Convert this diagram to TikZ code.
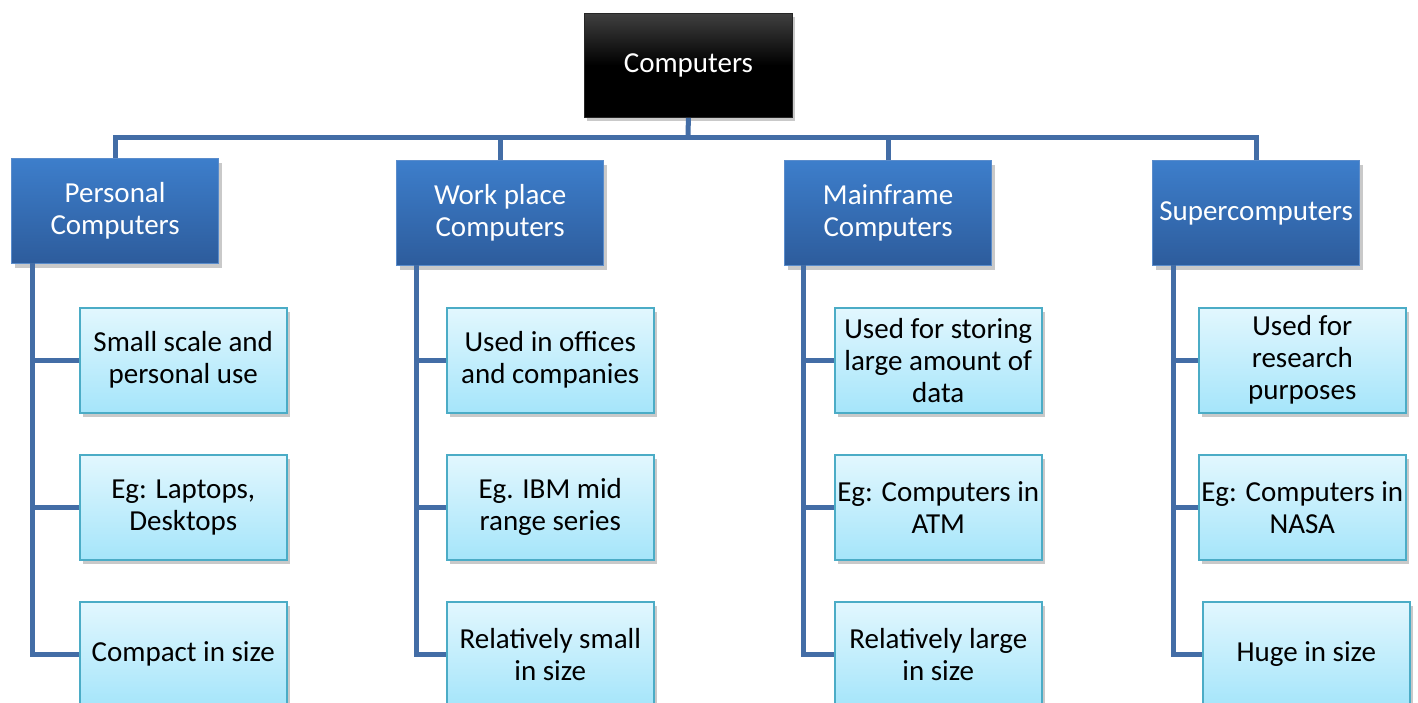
\documentclass[tikz,border=0pt]{standalone}
\usepackage{fontspec}
\setmainfont{Carlito}
\usetikzlibrary{shadows}
\definecolor{linkc}{HTML}{436DA6}
\definecolor{cattop}{HTML}{3D7ECB}
\definecolor{catbot}{HTML}{2D5C9C}
\definecolor{catborder}{HTML}{5A8CCB}
\definecolor{itemtop}{HTML}{E2F7FE}
\definecolor{itembot}{HTML}{A5E5FA}
\definecolor{itemborder}{HTML}{4BACC6}
\tikzset{
  boxshadow/.style={drop shadow={opacity=0.3, shadow xshift=3pt, shadow yshift=-4pt, fill=black!70}},
  rootbox/.style={top color=black!75, bottom color=black, middle color=black, shading angle=0,
    draw=black!85, line width=0.8pt, minimum width=208pt, minimum height=104pt,
    inner sep=0pt, text=white, font=\fontsize{29}{32}\selectfont, boxshadow, anchor=north west},
  catbox/.style={top color=cattop, bottom color=catbot, draw=catborder, line width=1.2pt,
    minimum width=207pt, minimum height=105pt, inner sep=2pt, text=white, align=center,
    font=\fontsize{29}{32}\selectfont, boxshadow, anchor=north west},
  itembox/.style={top color=itemtop, bottom color=itembot, draw=itemborder, line width=1.5pt,
    minimum width=207pt, minimum height=105pt, inner sep=1pt, text=black, align=center,
    font=\fontsize{29}{32}\selectfont, boxshadow, anchor=north west},
  link/.style={draw=linkc, line width=5pt}
}
\begin{document}
\begin{tikzpicture}[x=1pt,y=-1pt]
\useasboundingbox (0,0) rectangle (1418,702);
% root
\node[rootbox] (root) at (584,13) {Computers};
% categories
\node[catbox] (pc) at (11,158) {Personal\\Computers};
\node[catbox] (wp) at (396,160) {Work place\\Computers};
\node[catbox] (mf) at (784,160) {Mainframe\\Computers};
\node[catbox] (sc) at (1152,160) {Supercomputers};
% items
\node[itembox] (p1) at (79,307) {Small scale and\\personal use};
\node[itembox] (p2) at (79,454) {Eg: Laptops,\\Desktops};
\node[itembox] (p3) at (79,601) {Compact in size};
\node[itembox] (w1) at (446,307) {Used in offices\\and companies};
\node[itembox] (w2) at (446,454) {Eg. IBM mid\\range series};
\node[itembox] (w3) at (446,601) {Relatively small\\in size};
\node[itembox] (m1) at (834,307) {Used for storing\\large amount of\\data};
\node[itembox] (m2) at (834,454) {Eg: Computers in\\ATM};
\node[itembox] (m3) at (834,601) {Relatively large\\in size};
\node[itembox] (s1) at (1198,307) {Used for\\research\\purposes};
\node[itembox] (s2) at (1198,454) {Eg: Computers in\\NASA};
\node[itembox] (s3) at (1202,601) {Huge in size};
% top connectors
\coordinate (bar) at (688,137);
\draw[link] (root.south) -- (bar);
\draw[link] (pc.north) |- (bar) -| (sc.north);
\draw[link] (wp.north) -- (wp.north |- bar);
\draw[link] (mf.north) -- (mf.north |- bar);
% child connectors
\coordinate (pcv) at (32,263);
\coordinate (wpv) at (416,265);
\coordinate (mfv) at (803,265);
\coordinate (scv) at (1173,265);
\draw[link] (pcv) |- (p3.west);
\draw[link] (p1.west) -- (p1.west -| pcv);
\draw[link] (p2.west) -- (p2.west -| pcv);
\draw[link] (wpv) |- (w3.west);
\draw[link] (w1.west) -- (w1.west -| wpv);
\draw[link] (w2.west) -- (w2.west -| wpv);
\draw[link] (mfv) |- (m3.west);
\draw[link] (m1.west) -- (m1.west -| mfv);
\draw[link] (m2.west) -- (m2.west -| mfv);
\draw[link] (scv) |- (s3.west);
\draw[link] (s1.west) -- (s1.west -| scv);
\draw[link] (s2.west) -- (s2.west -| scv);
\end{tikzpicture}
\end{document}
